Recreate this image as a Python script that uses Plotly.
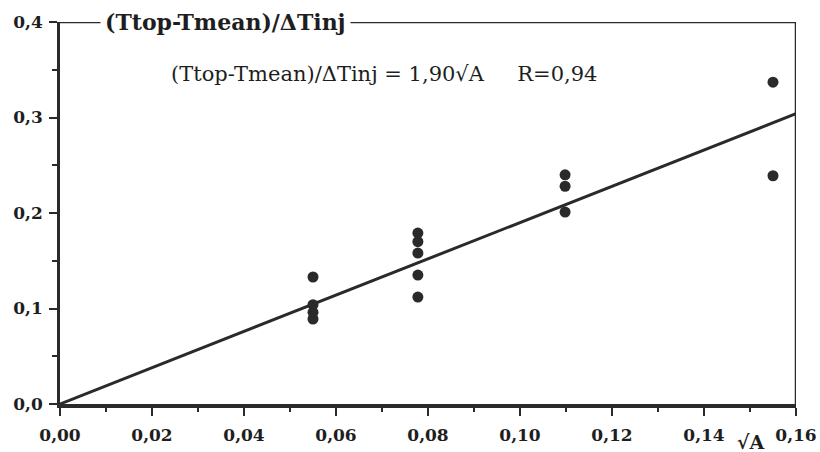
import plotly.graph_objects as go

# Data
sqrtA = [0.055, 0.055, 0.055, 0.055,
         0.0778, 0.0778, 0.0778, 0.0778, 0.0778,
         0.1098, 0.1098, 0.1098,
         0.155, 0.155]
ratio = [0.133, 0.104, 0.096, 0.089,
         0.179, 0.170, 0.158, 0.135, 0.112,
         0.240, 0.228, 0.201,
         0.337, 0.239]

slope = 1.90
fit_x = [0.0, 0.16]
fit_y = [slope * v for v in fit_x]

x_ticks = [0.0, 0.02, 0.04, 0.06, 0.08, 0.10, 0.12, 0.14, 0.16]
y_ticks = [0.0, 0.1, 0.2, 0.3, 0.4]
x_labels = ["0,00", "0,02", "0,04", "0,06", "0,08", "0,10", "0,12", "0,14", "0,16"]
y_labels = ["0,0", "0,1", "0,2", "0,3", "0,4"]

ink = "#2a2a2a"
serif = "DejaVu Serif"

fig = go.Figure()
fig.add_trace(go.Scatter(x=fit_x, y=fit_y, mode="lines",
                         line=dict(color=ink, width=3), showlegend=False,
                         cliponaxis=False))
fig.add_trace(go.Scatter(x=sqrtA, y=ratio, mode="markers",
                         marker=dict(color=ink, size=11), showlegend=False))

fig.update_layout(
    width=820, height=452,
    margin=dict(l=60, r=24, t=22, b=48),
    paper_bgcolor="white", plot_bgcolor="white",
    separators=",.",
    font=dict(family=serif, color="#1e1e1e"),
    xaxis=dict(range=[0, 0.16], showgrid=False, zeroline=False, automargin=False,
               showline=True, linecolor=ink, linewidth=3.5,
               ticks="outside", ticklen=8, tickwidth=2, tickcolor=ink,
               tickvals=x_ticks, ticktext=x_labels, ticklabelstandoff=5,
               minor=dict(dtick=0.01, ticks="outside", ticklen=4, tickwidth=2, tickcolor=ink),
               tickfont=dict(family=serif, size=17, weight="bold", color="#1e1e1e")),
    yaxis=dict(range=[0, 0.4], showgrid=False, zeroline=False, automargin=False,
               showline=True, linecolor=ink, linewidth=2.5,
               ticks="outside", ticklen=8, tickwidth=2, tickcolor=ink,
               tickvals=y_ticks, ticktext=y_labels, ticklabelstandoff=3,
               minor=dict(dtick=0.05, ticks="outside", ticklen=5, tickwidth=2, tickcolor=ink),
               tickfont=dict(family=serif, size=17, weight="bold", color="#1e1e1e")),
    shapes=[
        dict(type="line", xref="x", yref="y", x0=0, x1=0.16, y0=0.4, y1=0.4,
             line=dict(color=ink, width=2.5)),
        dict(type="line", xref="x", yref="y", x0=0.16, x1=0.16, y0=0, y1=0.4,
             line=dict(color=ink, width=2.5)),
    ],
    annotations=[
        dict(x=0.0359, y=0.4, xref="x", yref="y", text="<b>(Ttop-Tmean)/ΔTinj</b>",
             showarrow=False, bgcolor="white", borderpad=4,
             font=dict(family=serif, size=22, color="#1e1e1e")),
        dict(x=0.0704, y=0.3456, xref="x", yref="y",
             text="(Ttop-Tmean)/ΔTinj = 1,90√A&nbsp;&nbsp;&nbsp;&nbsp;&nbsp;R=0,94",
             showarrow=False, font=dict(family=serif, size=21, color="#1e1e1e")),
        dict(x=0.150, y=0, xref="x", yref="paper", yanchor="middle",
             yshift=-38, text="<b>√A</b>", showarrow=False,
             font=dict(family=serif, size=19, color="#1e1e1e")),
    ],
)

fig.write_html("out.html")
